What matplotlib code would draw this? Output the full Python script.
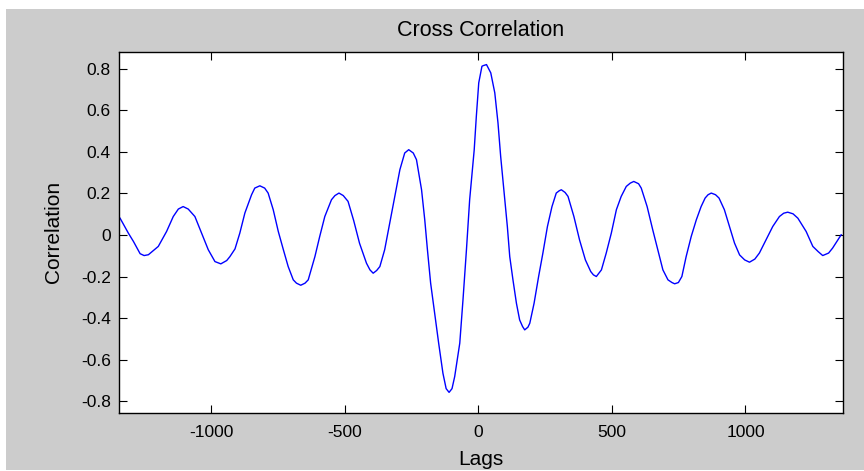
import matplotlib
matplotlib.use("Agg")
from matplotlib import pyplot as plt
from matplotlib.patches import Rectangle
import numpy as np

# values (lag, correlation)
lags = [-1340, -1309, -1290, -1265, -1250, -1234, -1197, -1166, -1141, -1122,
        -1104, -1085, -1060, -1035, -1010, -985, -963, -941, -929, -910,
        -892, -873, -848, -836, -817, -799, -786, -767, -748, -729,
        -711, -692, -680, -664, -648, -636, -611, -593, -574, -549,
        -536, -521, -505, -487, -466, -444, -418, -405, -393, -380,
        -368, -350, -331, -312, -293, -275, -260, -243, -231, -212,
        -200, -190, -178, -163, -148, -132, -120, -109, -98, -88,
        -69, -57, -44, -32, -15, -7, 2, 14, 19, 31,
        47, 62, 74, 84, 97, 109, 118, 130, 143, 155,
        166, 174, 186, 193, 209, 226, 242, 259, 276, 292,
        303, 311, 325, 336, 358, 379, 401, 421, 431, 442,
        461, 479, 498, 517, 535, 554, 569, 582, 600, 610,
        632, 653, 672, 691, 710, 725, 735, 749, 762, 778,
        797, 816, 834, 849, 860, 872, 888, 901, 921, 940,
        959, 978, 997, 1015, 1035, 1052, 1077, 1102, 1127, 1143,
        1158, 1178, 1196, 1227, 1252, 1272, 1289, 1311, 1326, 1358]
corr = [0.081, 0.009, -0.031, -0.090, -0.099, -0.095, -0.055, 0.017, 0.089, 0.125,
        0.137, 0.125, 0.089, 0.009, -0.071, -0.128, -0.139, -0.123, -0.104, -0.067,
        0.009, 0.106, 0.194, 0.226, 0.237, 0.226, 0.202, 0.122, 0.017, -0.071,
        -0.152, -0.216, -0.232, -0.242, -0.232, -0.216, -0.104, -0.007, 0.089, 0.170,
        0.190, 0.202, 0.190, 0.162, 0.070, -0.040, -0.136, -0.168, -0.184, -0.171,
        -0.152, -0.071, 0.057, 0.186, 0.315, 0.395, 0.411, 0.395, 0.363, 0.218,
        0.073, -0.071, -0.232, -0.377, -0.521, -0.666, -0.740, -0.758, -0.740, -0.682,
        -0.521, -0.313, -0.071, 0.170, 0.410, 0.572, 0.733, 0.813, 0.816, 0.821,
        0.781, 0.685, 0.540, 0.379, 0.202, 0.041, -0.104, -0.216, -0.329, -0.409,
        -0.441, -0.457, -0.444, -0.425, -0.329, -0.200, -0.087, 0.041, 0.137, 0.202,
        0.213, 0.218, 0.205, 0.186, 0.089, -0.023, -0.120, -0.176, -0.192, -0.200,
        -0.168, -0.087, 0.009, 0.122, 0.186, 0.234, 0.250, 0.258, 0.247, 0.226,
        0.137, 0.025, -0.071, -0.168, -0.216, -0.229, -0.235, -0.229, -0.200, -0.104,
        -0.007, 0.073, 0.137, 0.178, 0.194, 0.202, 0.194, 0.178, 0.122, 0.041,
        -0.039, -0.096, -0.120, -0.131, -0.116, -0.087, -0.023, 0.041, 0.089, 0.105,
        0.110, 0.102, 0.081, 0.017, -0.055, -0.080, -0.099, -0.087, -0.063, 0.001]

xticks = [-1000, -500, 0, 500, 1000]
yticks = [-0.8, -0.6, -0.4, -0.2, 0, 0.2, 0.4, 0.6, 0.8]
ytick_labels = ["-0.8", "-0.6", "-0.4", "-0.2", "0", "0.2", "0.4", "0.6", "0.8"]

plt.rcParams['font.family'] = ['Liberation Sans', 'DejaVu Sans']

W, H = 864, 471
fig = plt.figure(figsize=(W / 100, H / 100), dpi=100, facecolor='#cccccc')
# thin white strips top/left/bottom as in the screenshot
for (x0, y0, w, h) in [(0, 0, 6, H), (0, H - 9, W, 9), (0, 0, W, 1)]:
    fig.patches.append(Rectangle((x0 / W, y0 / H), w / W, h / H,
                                 transform=fig.transFigure, facecolor='white',
                                 edgecolor='none', zorder=-10))

ax = fig.add_axes([119 / W, 1 - 412.7 / H, (842.5 - 119) / W, (412.7 - 51.5) / H])
ax.set_facecolor('white')
ax.plot(lags, corr, color='#0000ff', linewidth=1.0)

ax.set_xlim(-1344, 1363)
ax.set_ylim(-0.856, 0.884)
ax.set_xticks(xticks)
ax.set_xticklabels([str(t) for t in xticks])
ax.set_yticks(yticks)
ax.set_yticklabels(ytick_labels)

ax.tick_params(direction='in', length=6, width=0.8, colors='k', labelsize=12.5,
               top=True, right=True)
ax.tick_params(axis='x', pad=9)
ax.tick_params(axis='y', pad=6)
for s in ax.spines.values():
    s.set_linewidth(1.0)
    s.set_color('k')

ax.set_title("Cross Correlation", fontsize=15.5, pad=11)
ax.set_xlabel("Lags", fontsize=15, labelpad=7)
ax.set_ylabel("Correlation", fontsize=15, labelpad=13)

fig.savefig('out.png', dpi=100, facecolor=fig.get_facecolor())
